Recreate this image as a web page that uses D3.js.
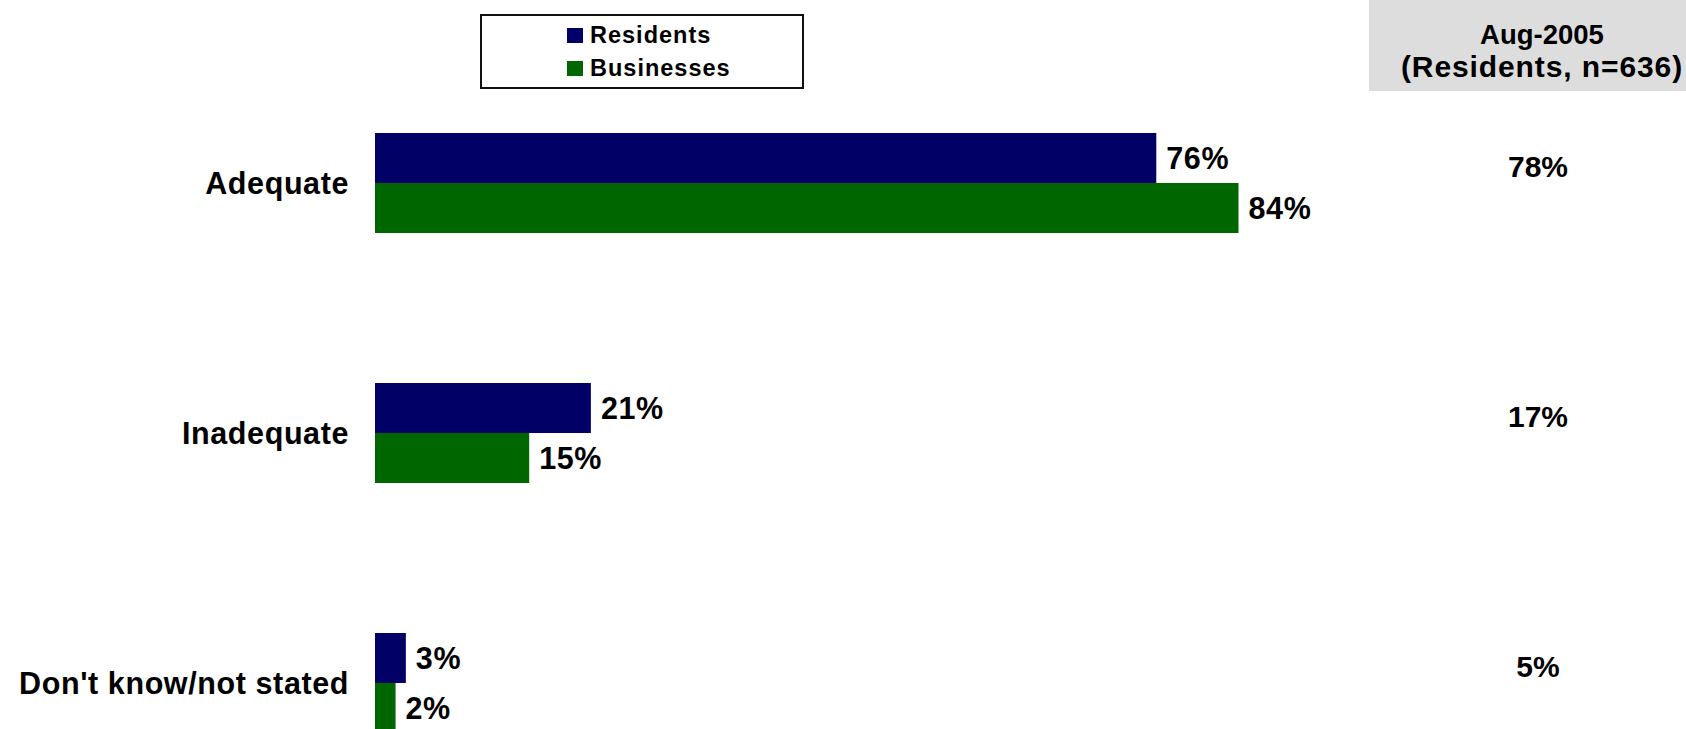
<!DOCTYPE html>
<html>
<head>
<meta charset="utf-8">
<script src="https://cdn.jsdelivr.net/npm/d3@7"></script>
<style>
  html, body { margin: 0; padding: 0; background: #fff; }
  svg { display: block; }
  text { font-family: "Liberation Sans", Arial, Helvetica, sans-serif; font-weight: bold; fill: #000; }
</style>
</head>
<body>
<svg id="chart" width="1686" height="729"></svg>
<script>
// Survey responses: adequacy rating by respondent group
const categories = ["Adequate", "Inadequate", "Don't know/not stated"];
const seriesNames = ["Residents", "Businesses"];
const residents = [76, 21, 3];
const businesses = [84, 15, 2];
const colors = ["#000066", "#006600"];

// Earlier comparison column
const compareTitle = ["Aug-2005", "(Residents, n=636)"];
const aug2005 = [78, 17, 5];

const series = [residents, businesses];

const svg = d3.select("#chart");

const x = d3.scaleLinear().domain([0, 100]).range([375, 1403]);

const y = d3.scaleBand()
  .domain(categories)
  .range([58, 808])
  .paddingInner(0.6)
  .paddingOuter(0.3);

const ySub = d3.scaleBand()
  .domain(seriesNames)
  .range([0, y.bandwidth()]);

// Comparison column header
svg.append("rect")
  .attr("x", 1369).attr("y", 0)
  .attr("width", 1686 - 1369).attr("height", 91)
  .attr("fill", "#dddddd");

svg.selectAll("text.head")
  .data(compareTitle)
  .join("text")
  .attr("class", "head")
  .attr("x", 1542)
  .attr("y", (d, i) => 44 + i * 33)
  .attr("text-anchor", "middle")
  .style("font-size", (d, i) => i === 0 ? "27.5px" : "30px")
  .style("letter-spacing", (d, i) => i === 0 ? "0px" : "0.9px")
  .text(d => d);

// Bars
const groups = svg.selectAll("g.cat")
  .data(categories)
  .join("g")
  .attr("class", "cat")
  .attr("transform", d => `translate(0,${y(d)})`);

groups.each(function(cat, ci) {
  const g = d3.select(this);
  seriesNames.forEach((name, si) => {
    const v = series[si][ci];
    g.append("rect")
      .attr("x", x(0))
      .attr("y", ySub(name))
      .attr("width", x(v) - x(0))
      .attr("height", ySub.bandwidth())
      .attr("fill", colors[si]);
    g.append("text")
      .attr("x", x(v) + 10)
      .attr("y", ySub(name) + ySub.bandwidth() / 2)
      .attr("dy", "0.36em")
      .style("font-size", "30.5px")
      .style("letter-spacing", "0.6px")
      .text(v + "%");
  });

  // Category label
  g.append("text")
    .attr("x", 349)
    .attr("y", y.bandwidth() / 2)
    .attr("dy", "0.36em")
    .attr("text-anchor", "end")
    .style("font-size", "30.5px")
    .style("letter-spacing", "0.6px")
    .text(cat);

  // Comparison value
  g.append("text")
    .attr("x", 1538)
    .attr("y", ySub.bandwidth() / 2 + 8)
    .attr("dy", "0.36em")
    .attr("text-anchor", "middle")
    .style("font-size", "30px")
    .text(aug2005[ci] + "%");
});

// Legend
const legend = svg.append("g");
legend.append("rect")
  .attr("x", 481).attr("y", 15)
  .attr("width", 322).attr("height", 73)
  .attr("fill", "#fff")
  .attr("stroke", "#111")
  .attr("stroke-width", 2);

seriesNames.forEach((name, i) => {
  legend.append("rect")
    .attr("x", 567).attr("y", 28 + i * 33)
    .attr("width", 16).attr("height", 15)
    .attr("fill", colors[i]);
  legend.append("text")
    .attr("x", 590).attr("y", 43 + i * 33)
    .style("font-size", "23.5px")
    .style("letter-spacing", "1px")
    .text(name);
});
</script>
</body>
</html>
